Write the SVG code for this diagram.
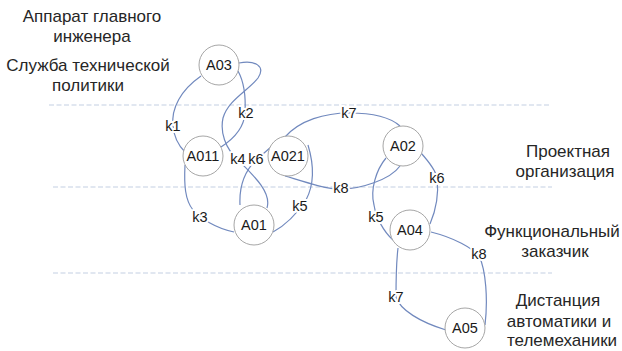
<svg xmlns="http://www.w3.org/2000/svg" width="622" height="351" viewBox="0 0 622 351">
<style>
.zone{font-family:"Liberation Sans",Arial,sans-serif;font-size:17px;fill:#262626;text-anchor:middle}
.sep{stroke:#c3cfe2;stroke-width:1;stroke-dasharray:5 2.5;fill:none}
.edge{stroke:#7189be;stroke-width:1.2;fill:none}
.node circle{fill:#fff;stroke:#a6a6a6;stroke-width:1}
.node text{font-family:"Liberation Sans",Arial,sans-serif;font-size:14.5px;fill:#1a1a1a;text-anchor:middle}
.lbl{font-family:"Liberation Sans",Arial,sans-serif;font-size:14.5px;fill:#1a1a1a;text-anchor:middle;stroke:#fff;stroke-width:4;stroke-linejoin:round;paint-order:stroke}
</style>
<rect width="622" height="351" fill="#fff"/>
<g id="separators">
<line class="sep" x1="49" y1="105" x2="550" y2="105"/>
<line class="sep" x1="53" y1="187" x2="552" y2="187"/>
<line class="sep" x1="53" y1="273" x2="552" y2="273"/>
</g>
<g id="zones">
<text class="zone" x="92" y="22">Аппарат главного</text>
<text class="zone" x="92" y="42">инженера</text>
<text class="zone" x="88" y="71">Служба технической</text>
<text class="zone" x="88" y="91">политики</text>
<text class="zone" x="568" y="157">Проектная</text>
<text class="zone" x="565" y="177">организация</text>
<text class="zone" x="552" y="237">Функциональный</text>
<text class="zone" x="555" y="257">заказчик</text>
<text class="zone" x="558" y="306">Дистанция</text>
<text class="zone" x="559" y="327">автоматики и</text>
<text class="zone" x="562" y="346">телемеханики</text>
</g>
<g id="connectors">
<path class="edge" d="M201,76 C181,90 171,108 173,126 C174,138 179,146 185,152"/>
<path class="edge" d="M238,71 C243,80 246,95 245,113 C244,128 235,138 221,147"/>
<path class="edge" d="M239,63 C255,60 266,66 258,78 C249,90 228,100 223,118 C220,132 225,148 238,160 C252,174 272,192 267,208"/>
<path class="edge" d="M271,147 L256,160 C246,170 239,185 240,205"/>
<path class="edge" d="M185,165 C184,185 185,200 193,210 C200,218 215,228 234,232"/>
<path class="edge" d="M308,145 C314,165 314,185 306,200 C296,215 286,225 273,232"/>
<path class="edge" d="M285,137 C300,120 325,113 349,113 C370,113 390,117 400,126"/>
<path class="edge" d="M285,176 C305,182 325,189 341,189 C360,189 390,180 400,166"/>
<path class="edge" d="M386,158 C376,170 370,190 374,205 C376,218 384,232 393,240"/>
<path class="edge" d="M421,153 C430,163 436,172 437,178 C439,195 436,210 430,224"/>
<path class="edge" d="M431,232 C455,238 472,248 479,256 C486,270 488,300 485,325"/>
<path class="edge" d="M398,248 C396,265 396,282 396,297 C400,310 420,322 446,330"/>
<text class="lbl" x="173" y="131">k1</text>
<text class="lbl" x="246" y="118">k2</text>
<text class="lbl" x="200" y="222">k3</text>
<text class="lbl" x="238" y="164">k4</text>
<text class="lbl" x="256" y="164">k6</text>
<text class="lbl" x="300" y="211">k5</text>
<text class="lbl" x="349" y="118">k7</text>
<text class="lbl" x="341" y="193">k8</text>
<text class="lbl" x="437" y="183">k6</text>
<text class="lbl" x="376" y="222">k5</text>
<text class="lbl" x="479" y="259">k8</text>
<text class="lbl" x="396" y="302">k7</text>
</g>
<g id="A03" class="node"><circle cx="219" cy="65" r="20"/><text x="219" y="70">A03</text></g>
<g id="A011" class="node"><circle cx="203" cy="156" r="20"/><text x="203" y="161">A011</text></g>
<g id="A021" class="node"><circle cx="288" cy="156" r="20"/><text x="288" y="161">A021</text></g>
<g id="A01" class="node"><circle cx="254" cy="225" r="20"/><text x="254" y="230">A01</text></g>
<g id="A02" class="node"><circle cx="403" cy="146" r="20"/><text x="403" y="151">A02</text></g>
<g id="A04" class="node"><circle cx="410" cy="230" r="20"/><text x="410" y="235">A04</text></g>
<g id="A05" class="node"><circle cx="465" cy="328" r="20"/><text x="465" y="333">A05</text></g>
</svg>
